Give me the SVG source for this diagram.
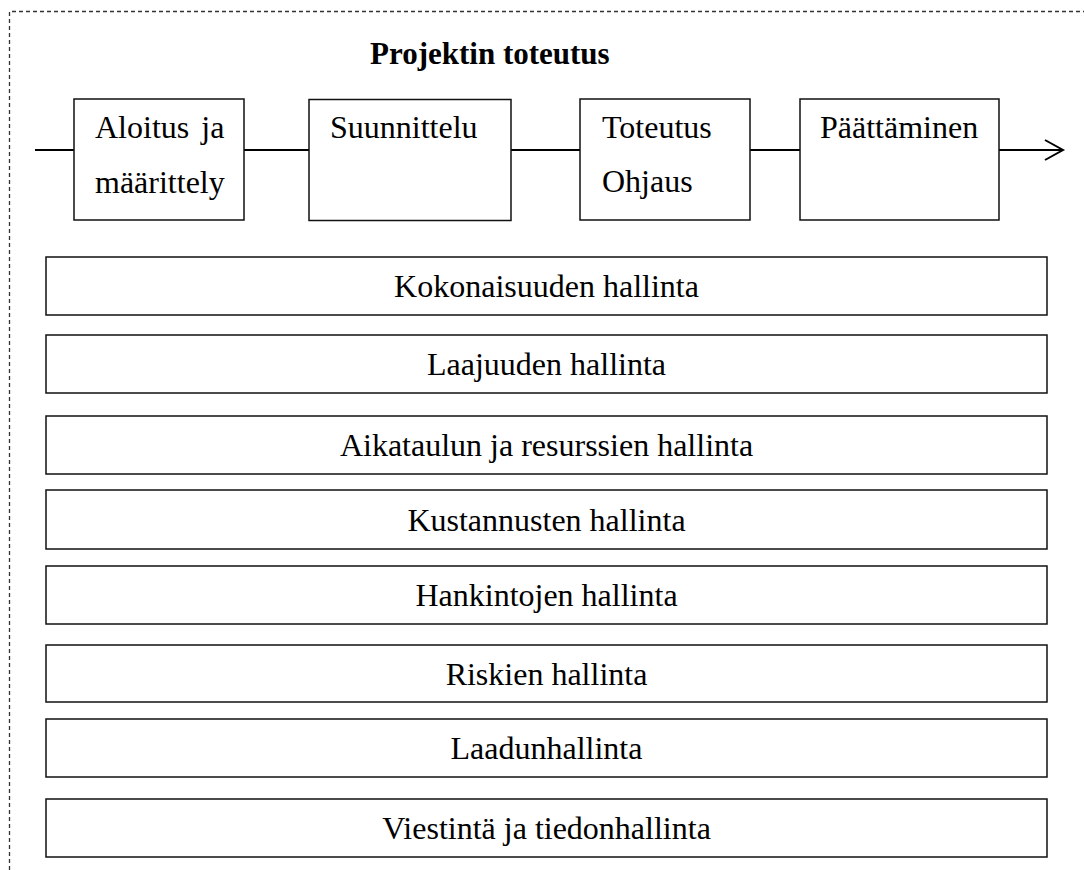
<svg xmlns="http://www.w3.org/2000/svg" width="1084" height="870" viewBox="0 0 1084 870">
<style>
text{font-family:"Liberation Serif","Times New Roman",serif;font-size:32px;fill:#000}
.t{font-weight:bold;font-size:31px}
.c{text-anchor:middle}
.box{fill:#fff;stroke:#111;stroke-width:1.5}
.ln{fill:none;stroke:#000;stroke-width:2}
.frame{fill:none;stroke:#333;stroke-width:1.3;stroke-dasharray:4 3}
</style>
<path class="frame" d="M9.5,870 V11.5 H1084"/>
<g id="title"><text class="t" x="370" y="64">Projektin toteutus</text></g>
<g id="connectors">
<line class="ln" x1="35" y1="150" x2="74" y2="150"/>
<line class="ln" x1="244" y1="150" x2="309" y2="150"/>
<line class="ln" x1="511" y1="150" x2="580" y2="150"/>
<line class="ln" x1="750" y1="150" x2="800" y2="150"/>
<line class="ln" x1="999" y1="150" x2="1063" y2="150"/>
<polyline class="ln" points="1045,140 1063,150 1045,160"/>
</g>
<g id="aloitus"><rect class="box" x="74" y="99" width="170" height="121"/><text x="95" y="138" word-spacing="4">Aloitus ja</text><text x="95" y="193">määrittely</text></g>
<g id="suunnittelu"><rect class="box" x="309" y="99.5" width="202" height="121"/><text x="330" y="138">Suunnittelu</text></g>
<g id="toteutus"><rect class="box" x="580" y="99" width="170" height="121"/><text x="602" y="138">Toteutus</text><text x="602" y="192">Ohjaus</text></g>
<g id="paattaminen"><rect class="box" x="800" y="99" width="199" height="121"/><text x="820" y="138">Päättäminen</text></g>
<g id="kokonaisuus"><rect class="box" x="46" y="257" width="1001" height="58"/><text class="c" x="546.5" y="297">Kokonaisuuden hallinta</text></g>
<g id="laajuus"><rect class="box" x="46" y="335" width="1001" height="58"/><text class="c" x="546.5" y="375">Laajuuden hallinta</text></g>
<g id="aikataulu"><rect class="box" x="46" y="416" width="1001" height="58"/><text class="c" x="546.5" y="456">Aikataulun ja resurssien hallinta</text></g>
<g id="kustannukset"><rect class="box" x="46" y="490" width="1001" height="59"/><text class="c" x="546.5" y="531">Kustannusten hallinta</text></g>
<g id="hankinnat"><rect class="box" x="46" y="566" width="1001" height="58"/><text class="c" x="546.5" y="606">Hankintojen hallinta</text></g>
<g id="riskit"><rect class="box" x="46" y="645" width="1001" height="57"/><text class="c" x="546.5" y="685">Riskien hallinta</text></g>
<g id="laatu"><rect class="box" x="46" y="719" width="1001" height="58"/><text class="c" x="546.5" y="759">Laadunhallinta</text></g>
<g id="viestinta"><rect class="box" x="46" y="799" width="1001" height="58"/><text class="c" x="546.5" y="839">Viestintä ja tiedonhallinta</text></g>
</svg>
